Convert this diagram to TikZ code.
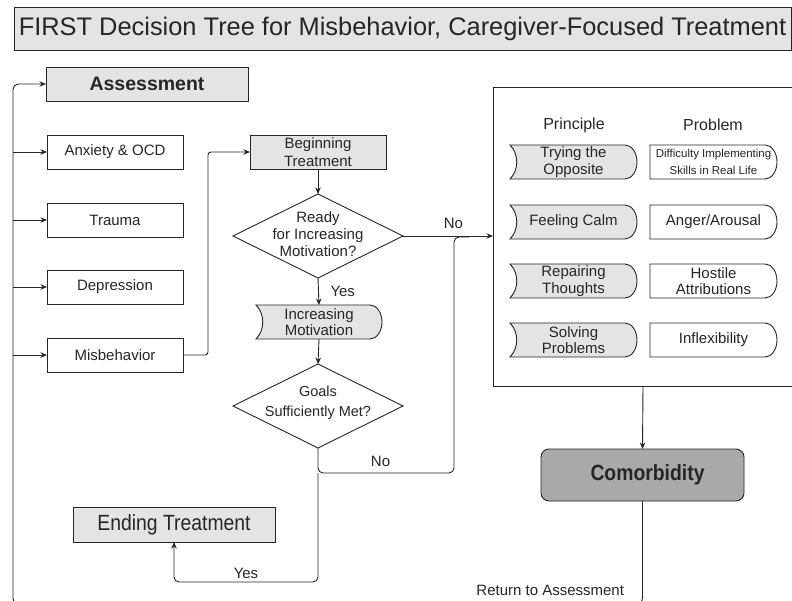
\documentclass[tikz,border=0pt]{standalone}
\usepackage{fontspec}
\setmainfont{Liberation Sans}
\newfontfamily\narrowsans{Liberation Sans}[FakeStretch=0.88]
\usetikzlibrary{shapes.geometric,arrows.meta,calc}
\definecolor{ink}{HTML}{262626}
\definecolor{lightfill}{HTML}{E4E4E6}
\definecolor{midfill}{HTML}{A8A9AB}
\pgfdeclarelayer{shapes}
\pgfsetlayers{shapes,main}

% outline with a concave left side and a rounded right end
\newcommand\scrollshape[2]{%
  \begin{pgfonlayer}{shapes}
  \draw[edgeline, fill=#2] (#1.north west) -- ($(#1.north east)+(-12,0)$)
    .. controls +(6.6,0) and +(0,-9.4) .. (#1.east)
    .. controls +(0,9.4) and +(6.6,0) .. ($(#1.south east)+(-12,0)$)
    -- (#1.south west) .. controls +(9,-9) and +(9,9) .. (#1.north west) -- cycle;
  \end{pgfonlayer}}
% outline with a straight left side and a rounded right end
\newcommand\capshape[1]{%
  \begin{pgfonlayer}{shapes}
  \draw[edgeline, fill=white] (#1.north west) -- ($(#1.north east)+(-12,0)$)
    .. controls +(6.6,0) and +(0,-9.4) .. (#1.east)
    .. controls +(0,9.4) and +(6.6,0) .. ($(#1.south east)+(-12,0)$)
    -- (#1.south west) -- cycle;
  \end{pgfonlayer}}

\begin{document}
\begin{tikzpicture}[x=1pt,y=-1pt,
  every node/.style={inner sep=0pt, outer sep=0pt, text=ink},
  edgeline/.style={draw=ink, line width=0.9pt},
  link/.style={draw=ink, line width=0.9pt},
  arr/.style={link, -{Stealth[length=6.5pt,width=5.5pt]}},
  txt/.style={font=\fontsize{15}{18}\selectfont, align=center},
  plainbox/.style={edgeline, rectangle, txt, minimum width=136, minimum height=34},
  graybox/.style={plainbox, fill=lightfill},
  decision/.style={edgeline, diamond, minimum width=170, minimum height=84},
  slot/.style={font=\fontsize{15}{16.5}\selectfont, align=center, minimum width=127, minimum height=34},
]
\useasboundingbox (0,0) rectangle (792,601);

% title
\node[edgeline, fill=lightfill, anchor=north west, minimum width=777, minimum height=43,
      font=\fontsize{25.4}{30}\selectfont] (title) at (14,7)
      {FIRST Decision Tree for Misbehavior, Caregiver-Focused Treatment};

% assessment column
\node[graybox, anchor=north west, minimum width=202,
      font=\bfseries\fontsize{19.5}{23}\selectfont] (assess) at (46,67) {Assessment};
\node[plainbox] (anx) at (115,152) {Anxiety \& OCD};
\node[plainbox] (trauma) at (115,220) {Trauma};
\node[plainbox] (dep) at (115,287) {Depression};
\node[plainbox] (misb) at (115,355) {Misbehavior};

% treatment flow
\node[graybox] (begin) at (318,152) {Beginning\\Treatment};
\node[decision] (d1) at (318,236) {};
\node[txt, font=\fontsize{15}{17}\selectfont] (d1text) at (318,234) {Ready\\for Increasing\\Motivation?};
\node[slot, minimum width=126] (incmot) at (319,322) {Increasing\\Motivation};
\scrollshape{incmot}{lightfill}
\node[decision] (d2) at (318,406) {};
\node[txt, font=\fontsize{14.5}{20}\selectfont] (d2text) at (318,403) {Goals\\Sufficiently Met?};
\node[graybox, minimum width=202, minimum height=35,
      font=\narrowsans\fontsize{22}{26}\selectfont] (ending) at (174,524.5) {Ending Treatment};

% principle / problem panel
\node[edgeline, minimum width=300, minimum height=299] (panel) at (643,236.5) {};
\node[font=\fontsize{16}{19}\selectfont] (hprin) at (574,125) {Principle};
\node[font=\fontsize{16}{19}\selectfont] (hprob) at (713,125) {Problem};

\node[slot] (p1) at (573.5,162) {Trying the\\Opposite};   \scrollshape{p1}{lightfill}
\node[slot] (p2) at (573.5,222) {Feeling Calm};            \scrollshape{p2}{lightfill}
\node[slot] (p3) at (573.5,281) {Repairing\\Thoughts};    \scrollshape{p3}{lightfill}
\node[slot] (p4) at (573.5,340) {Solving\\Problems};      \scrollshape{p4}{lightfill}

\node[slot, font=\fontsize{11.5}{17}\selectfont] (q1) at (713.5,162) {Difficulty Implementing\\Skills in Real Life}; \capshape{q1}
\node[slot] (q2) at (713.5,222) {Anger/Arousal};          \capshape{q2}
\node[slot] (q3) at (713.5,281) {Hostile\\Attributions};  \capshape{q3}
\node[slot] (q4) at (713.5,340) {Inflexibility};          \capshape{q4}

\node[edgeline, fill=midfill, rounded corners=8, minimum width=203, minimum height=52,
      font=\narrowsans\bfseries\fontsize{22}{26}\selectfont] (comorb) at (642.5,475) {\hspace*{10pt}Comorbidity};

\node[font=\fontsize{15}{17}\selectfont, anchor=east] (ret) at (624,590) {Return to Assessment};

% helper points
\coordinate (loopbase) at (13,604);
\coordinate (split) at (318,473);
\coordinate (yesturn) at (318,582);
\coordinate (nojoin) at (454,237);

% return loop and assessment branches
\draw[arr, rounded corners=6] (comorb.south) -- (comorb.south |- loopbase) -- (loopbase)
  -- (loopbase |- assess.west) -- (assess.west);
\draw[arr] (loopbase |- anx.west) -- (anx.west);
\draw[arr] (loopbase |- trauma.west) -- (trauma.west);
\draw[arr] (loopbase |- dep.west) -- (dep.west);
\draw[arr] (loopbase |- misb.west) -- (misb.west);

% treatment connectors
\draw[arr, rounded corners=3] (misb.east) -- ++(25,0) |- (begin.west);
\draw[arr] (begin.south) -- (d1.north);
\draw[arr] (d1.south) -- node[pos=0.5, anchor=west, xshift=12pt, txt] {Yes} (incmot.north);
\draw[arr] (d1.east) -- node[pos=0.56, anchor=south, yshift=7pt, txt] {No} (d1.east -| panel.west);
\draw[arr] (incmot.south) -- (d2.north);
\draw[link, rounded corners=5] (d2.south) -- (split)
  -| node[pos=0.23, anchor=south, yshift=6pt, txt] {No} (nojoin) -- ++(15,0);
\draw[arr, rounded corners=5] (split) -- (yesturn)
  -| node[pos=0.25, anchor=south, yshift=3pt, txt] {Yes} (ending.south);
\draw[arr] (panel.south) -- (comorb.north);
\end{tikzpicture}
\end{document}
